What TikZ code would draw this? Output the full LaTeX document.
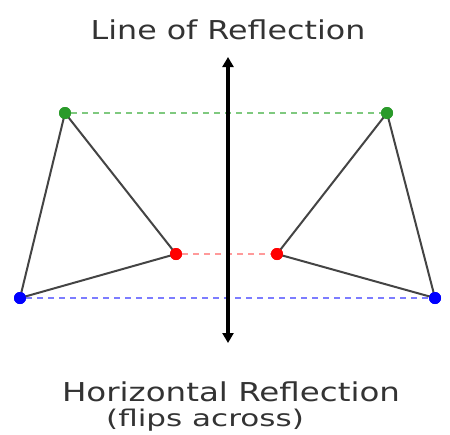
\documentclass[tikz,border=0pt]{standalone}
\usepackage{fontspec}
\setmainfont{DejaVu Sans}
\usetikzlibrary{arrows.meta}
\definecolor{txt}{HTML}{333333}
\definecolor{dgreen}{HTML}{2A9A2A}
\definecolor{lgreen}{HTML}{7FC97F}
\definecolor{lred}{HTML}{FF9A9A}
\definecolor{lblue}{HTML}{7C7CFF}
\definecolor{edge}{HTML}{444444}
\begin{document}
\begin{tikzpicture}[x=1pt,y=-1pt,
  dot/.style={circle,inner sep=0pt,minimum size=12pt},
  side/.style={draw=edge,line width=2pt},
  mirror/.style={line width=2pt,dash pattern=on 6pt off 5pt},
  label/.style={text=txt,inner sep=0pt}]
\useasboundingbox (0,0) rectangle (450,434);
\node[label,font=\fontsize{26}{26}\selectfont] (title) at (228,30) {\scalebox{1.22}[1]{Line of Reflection}};
\node[label,font=\fontsize{26}{26}\selectfont] (cap1) at (231,392) {\scalebox{1.25}[1]{Horizontal Reflection}};
\node[label,font=\fontsize{23}{23}\selectfont] (cap2) at (205,420) {\scalebox{1.35}[1]{(flips across)}};
\coordinate (top) at (228,57);
\coordinate (bot) at (228,343);
\node[dot,fill=dgreen] (gl) at (65,113) {};
\node[dot,fill=dgreen] (gr) at (387,113) {};
\node[dot,fill=red] (rl) at (176,254) {};
\node[dot,fill=red] (rr) at (277,254) {};
\node[dot,fill=blue] (bl) at (20,298) {};
\node[dot,fill=blue] (br) at (435,298) {};
\draw[mirror,draw=lgreen] (gl) -- (gr);
\draw[mirror,draw=lred] (rl) -- (rr);
\draw[mirror,draw=lblue] (bl) -- (br);
\draw[side] (gl.center) -- (bl.center);
\draw[side] (gl.center) -- (rl.center);
\draw[side] (rl.center) -- (bl.center);
\draw[side] (gr.center) -- (br.center);
\draw[side] (gr.center) -- (rr.center);
\draw[side] (rr.center) -- (br.center);
\node[dot,fill=dgreen] at (gl) {};
\node[dot,fill=dgreen] at (gr) {};
\node[dot,fill=red] at (rl) {};
\node[dot,fill=red] at (rr) {};
\node[dot,fill=blue] at (bl) {};
\node[dot,fill=blue] at (br) {};
\draw[line width=3.5pt,{Triangle[width=11pt,length=10pt]}-{Triangle[width=11pt,length=10pt]}] (top) -- (bot);
\end{tikzpicture}
\end{document}
